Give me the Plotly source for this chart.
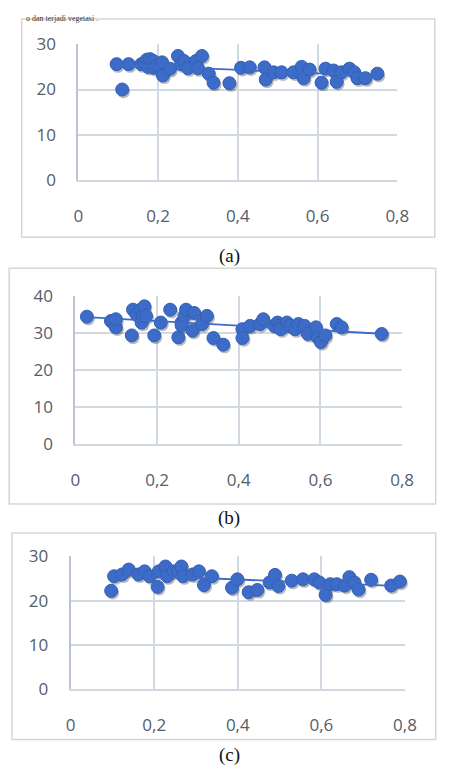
import numpy as np
import plotly.graph_objects as go

# ---------------- data ----------------
xa = [0.096, 0.11, 0.126, 0.158, 0.165, 0.172, 0.175, 0.18, 0.188, 0.19, 0.198, 0.21, 0.212,
      0.23, 0.25, 0.258, 0.265, 0.275, 0.295, 0.30, 0.31, 0.327, 0.339, 0.379, 0.408, 0.43,
      0.467, 0.47, 0.49, 0.51, 0.54, 0.56, 0.565, 0.58, 0.61, 0.62, 0.64, 0.648, 0.66, 0.68,
      0.692, 0.70, 0.72, 0.75]
ya = [25.6, 20.0, 25.6, 25.6, 25.9, 26.6, 25.0, 26.7, 26.3, 24.8, 25.4, 26.0, 23.1,
      24.6, 27.4, 25.6, 26.3, 24.7, 26.3, 24.7, 27.4, 23.5, 21.5, 21.4, 24.8, 24.9,
      24.9, 22.2, 23.8, 23.8, 23.8, 25.0, 22.5, 24.4, 21.5, 24.6, 24.2, 21.7, 23.8, 24.6,
      23.8, 22.5, 22.5, 23.5]

xb = [0.028, 0.087, 0.091, 0.099, 0.099, 0.138, 0.141, 0.15, 0.16, 0.162, 0.165, 0.169, 0.173,
      0.193, 0.209, 0.232, 0.252, 0.26, 0.26, 0.267, 0.271, 0.287, 0.291, 0.31, 0.322, 0.338,
      0.362, 0.409, 0.409, 0.428, 0.452, 0.46, 0.487, 0.495, 0.499, 0.503, 0.518, 0.526, 0.538,
      0.546, 0.561, 0.569, 0.589, 0.593, 0.601, 0.612, 0.64, 0.652, 0.75]
yb = [34.5, 33.3, 33.3, 31.6, 33.8, 29.4, 36.4, 35.1, 36.4, 32.9, 34.7, 37.3, 34.7,
      29.4, 32.9, 36.4, 28.9, 32.9, 32.1, 34.7, 36.4, 30.7, 35.5, 32.5, 34.7, 28.7,
      26.9, 31.1, 28.7, 32.0, 32.5, 33.8, 32.0, 32.9, 32.0, 31.1, 32.9, 32.0, 31.1,
      32.5, 32.0, 29.8, 31.6, 28.9, 27.6, 29.4, 32.5, 31.6, 29.8]

xc = [0.097, 0.104, 0.123, 0.139, 0.162, 0.177, 0.189, 0.208, 0.211, 0.227, 0.231, 0.246,
      0.257, 0.265, 0.269, 0.292, 0.307, 0.319, 0.338, 0.386, 0.399, 0.426, 0.447, 0.476,
      0.489, 0.497, 0.529, 0.556, 0.583, 0.595, 0.61, 0.621, 0.637, 0.656, 0.667, 0.679,
      0.689, 0.719, 0.767, 0.788]
yc = [22.2, 25.5, 25.9, 27.0, 25.9, 26.6, 25.5, 23.1, 26.6, 27.7, 25.5, 26.6,
      26.6, 27.7, 25.5, 25.9, 26.6, 23.5, 25.5, 22.9, 24.8, 21.9, 22.4, 24.1,
      25.8, 23.3, 24.5, 24.8, 24.8, 24.1, 21.3, 23.7, 23.7, 23.4, 25.3, 24.1,
      22.5, 24.7, 23.4, 24.3]

x_ticks = [0, 0.2, 0.4, 0.6, 0.8]
x_ticktext = ["0", "0,2", "0,4", "0,6", "0,8"]
y_ticks_a = [0, 10, 20, 30]
y_ticks_b = [0, 10, 20, 30, 40]
y_ticks_c = [0, 10, 20, 30]
labels = ["(a)", "(b)", "(c)"]
top_text = "o dan terjadi vegetasi ."

# ---------------- layout geometry (page pixels) ----------------
PAGE_W, PAGE_H = 449, 778
OFF = 8                      # default page margin around the figure
W, H = PAGE_W - 2 * OFF, PAGE_H - 2 * OFF
BLUE = "#3c6cc8"
GRID = "#d3d9e3"
TICKC = "#565d69"


def fx(px):
    return (px - OFF) / W


def fy(py):
    return 1 - (py - OFF) / H


panels = [
    dict(x=xa, y=ya, yt=y_ticks_a, l=76, r=408, t=33, b=173, frame=(17, 7, 447, 232), ly=251),
    dict(x=xb, y=yb, yt=y_ticks_b, l=73, r=413, t=293, b=445, frame=(4, 264, 448, 507), ly=521),
    dict(x=xc, y=yc, yt=y_ticks_c, l=68, r=416, t=561, b=698, frame=(7, 537, 448, 750), ly=766),
]

fig = go.Figure()
shapes = []
annotations = []

for i, p in enumerate(panels):
    n = "" if i == 0 else str(i + 1)
    xr, yr = [0, 0.8], [0, p["yt"][-1]]
    px_dx = 0.8 / (p["r"] - p["l"])
    px_dy = yr[1] / (p["b"] - p["t"])
    xs = np.array(p["x"])
    ys = np.array(p["y"])
    # soft shadow under markers
    fig.add_trace(go.Scatter(
        x=xs + 1.5 * px_dx, y=ys - 2.2 * px_dy, mode="markers",
        marker=dict(size=13, color="rgba(20,25,40,0.30)", line=dict(width=0)),
        xaxis="x" + n, yaxis="y" + n, showlegend=False, hoverinfo="skip", cliponaxis=False))
    fig.add_trace(go.Scatter(
        x=xs, y=ys, mode="markers",
        marker=dict(size=13, color=BLUE, line=dict(width=1, color="#3460b4")),
        xaxis="x" + n, yaxis="y" + n, showlegend=False, cliponaxis=False))
    # linear trendline (least squares on the data)
    k, c = np.polyfit(xs, ys, 1)
    xt = np.array([xs.min(), xs.max()])
    fig.add_trace(go.Scatter(
        x=xt, y=k * xt + c, mode="lines", line=dict(color=BLUE, width=1.8),
        xaxis="x" + n, yaxis="y" + n, showlegend=False))

    fig.layout["xaxis" + n] = dict(
        domain=[fx(p["l"]), fx(p["r"])], range=xr, anchor="y" + n,
        tickmode="array", tickvals=x_ticks, ticktext=x_ticktext,
        showgrid=True, gridcolor=GRID, gridwidth=1.6,
        zeroline=False, showline=True, linecolor=GRID, linewidth=1.6,
        ticks="", ticklabelstandoff=20,
        tickfont=dict(family="Open Sans", size=17, color=TICKC), fixedrange=True)
    fig.layout["yaxis" + n] = dict(
        domain=[fy(p["b"]), fy(p["t"])], range=yr, anchor="x" + n,
        tickmode="array", tickvals=p["yt"],
        showgrid=True, gridcolor=GRID, gridwidth=1.6,
        zeroline=False, showline=True, linecolor="#bcc4d2", linewidth=2,
        ticks="", ticklabelstandoff=17,
        tickfont=dict(family="Open Sans", size=17, color=TICKC), fixedrange=True)

    x0, y0, x1, y1 = p["frame"]
    shapes.append(dict(type="rect", xref="paper", yref="paper",
                       x0=fx(x0), x1=fx(x1), y0=fy(y1), y1=fy(y0),
                       line=dict(color="#d6d6d6", width=1.5), fillcolor="rgba(0,0,0,0)"))
    annotations.append(dict(text=labels[i], xref="paper", yref="paper",
                            x=fx(233), y=fy(p["ly"]), xanchor="center", yanchor="middle",
                            showarrow=False, borderpad=0,
                            font=dict(family="Liberation Serif", size=19, color="#111111")))

annotations.append(dict(text=top_text, xref="paper", yref="paper", x=fx(20), y=fy(0.5),
                        xanchor="left", yanchor="top", showarrow=False, borderpad=0,
                        font=dict(family="Liberation Serif", size=8, color="#333333")))

fig.update_layout(
    width=W, height=H, margin=dict(l=0, r=0, t=0, b=0),
    paper_bgcolor="white", plot_bgcolor="white",
    shapes=shapes, annotations=annotations, separators=", ",
)

fig.write_html("out.html", config={"displayModeBar": False})
